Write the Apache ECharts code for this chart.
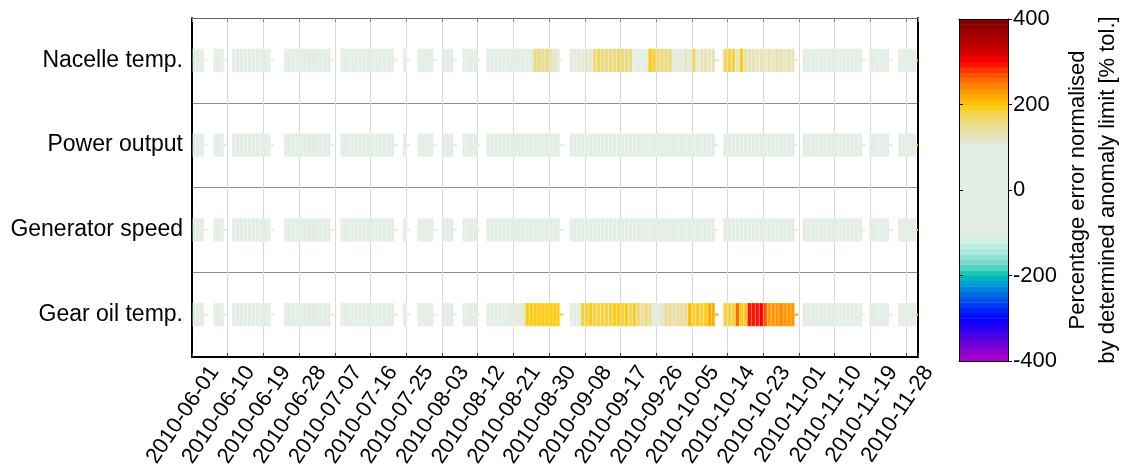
<!DOCTYPE html>
<html><head><meta charset="utf-8">
<script src="https://cdn.jsdelivr.net/npm/echarts@6/dist/echarts.min.js"></script>
<style>html,body{margin:0;padding:0;background:#fff}#c{width:1126px;height:472px}</style>
</head><body><div id="c"></div>
<script>
// ---------- DATA ----------
const rowNames = ['Nacelle temp.', 'Power output', 'Generator speed', 'Gear oil temp.'];
const tickLabels = ['2010-06-01','2010-06-10','2010-06-19','2010-06-28','2010-07-07','2010-07-16','2010-07-25',
  '2010-08-03','2010-08-12','2010-08-21','2010-08-30','2010-09-08','2010-09-17','2010-09-26','2010-10-05',
  '2010-10-14','2010-10-23','2010-11-01','2010-11-10','2010-11-19','2010-11-28'];
const tickStepDays = 9;          // days between date ticks
const axisEndDay = 183;          // x range end, days after 2010-06-01
// periods with data, [start, end] in days after 2010-06-01
const segments = [[0.2,3.0],[5.4,8.0],[10.1,19.8],[23.2,34.9],[37.4,50.9],[53.2,54.1],[56.8,60.8],
  [63.2,65.9],[68.2,71.9],[74.2,92.7],[95.2,131.8],[133.8,151.9],[153.9,168.9],[170.7,175.7],[178.0,182.5]];
// daily values (% tol.), day 0 = 2010-06-01
const nacelleTemp = [
  12,8,15,null,null,10,18,6,null,null,
  14,9,20,11,7,16,22,13,8,10,
  null,null,null,12,18,9,21,14,7,11,
  19,16,10,13,8,null,null,17,9,14,
  20,11,8,15,18,13,10,16,12,9,
  14,null,null,11,13,null,15,9,12,18,
  10,null,null,14,11,16,null,null,12,19,
  10,15,null,null,20,25,18,30,22,28,
  35,26,31,40,45,55,150,150,148,152,
  135,115,112,null,null,110,108,112,110,115,
  110,160,165,158,162,160,155,163,160,158,
  162,50,40,45,60,195,185,155,150,158,
  152,110,112,108,115,110,170,105,125,128,
  122,125,null,175,170,178,175,120,195,130,
  125,128,122,126,124,127,123,125,128,122,
  126,124,null,20,15,22,18,12,25,16,
  10,19,14,21,8,17,13,11,15,null,
  12,18,9,16,14,10,null,null,13,17,
  11,15,19];
const powerOutput = [
  -5,3,-8,null,null,2,-4,6,null,null,
  1,-3,5,-7,4,-2,8,-6,3,-1,
  null,null,null,4,-5,7,-3,2,-8,5,
  -2,6,-4,3,-7,null,null,5,-1,4,
  -6,2,7,-3,1,-5,6,-2,4,-8,
  3,null,null,-4,5,null,2,-6,7,-1,
  4,null,null,-3,6,-5,null,null,2,-7,
  5,-2,null,null,3,-4,8,-6,1,-3,
  5,-7,4,-2,6,-5,3,-1,7,-4,
  2,-6,5,null,null,-3,4,-8,6,-2,
  3,-5,7,-1,4,-6,2,-3,5,-7,
  1,6,-4,3,-2,8,-5,2,-6,4,
  -1,5,-3,7,-4,2,-8,6,-2,3,
  -5,4,null,1,-6,7,-3,5,-2,4,
  -7,3,-1,6,-4,2,-5,8,-3,1,
  -6,4,null,5,-2,7,-4,3,-8,2,
  -1,6,-5,4,-3,2,-7,5,-2,null,
  3,-6,4,-1,7,-4,null,null,2,-5,
  6,-3,4];
const generatorSpeed = [
  7,-2,4,null,null,-6,3,-1,null,null,
  -4,8,-3,2,-7,5,-2,6,-5,1,
  null,null,null,-3,7,-6,2,-4,5,-1,
  6,-8,3,-2,4,null,null,-5,7,-3,
  1,-4,6,-7,2,5,-1,3,-6,8,
  -2,null,null,4,-3,null,-5,6,-1,3,
  -4,null,null,7,-2,5,null,null,-6,1,
  -3,4,null,null,-5,8,-2,3,-7,6,
  -1,4,-5,2,-3,7,-6,1,-4,5,
  -2,6,-8,null,null,3,-1,5,-4,7,
  -3,2,-6,4,-1,8,-5,3,-2,6,
  -7,1,4,-3,5,-2,6,-4,2,-8,
  3,-1,7,-5,4,-2,6,-3,1,-6,
  5,-4,null,2,-7,3,-1,6,-5,4,
  -2,8,-3,1,-6,5,-4,2,-1,7,
  -5,3,null,-2,6,-4,1,-7,4,-3,
  5,-1,2,-6,8,-3,4,-2,6,null,
  -4,1,-5,7,-3,2,null,null,-6,4,
  -1,5,-2];
const gearOilTemp = [
  15,22,10,null,null,18,12,25,null,null,
  20,14,28,16,11,24,19,13,27,17,
  null,null,null,21,15,26,12,23,18,29,
  14,20,25,11,22,null,null,16,28,13,
  24,19,15,27,12,21,26,17,23,14,
  20,null,null,18,25,null,13,22,16,27,
  19,null,null,24,15,21,null,null,18,26,
  12,23,null,null,30,35,28,40,45,50,
  105,110,108,112,190,192,188,195,190,193,
  189,191,190,null,null,60,55,85,185,182,
  188,184,186,183,187,185,198,190,185,192,
  170,188,150,140,155,148,112,108,115,140,
  145,130,142,138,140,210,185,195,182,188,
  215,218,null,182,178,185,180,262,190,188,
  290,288,292,312,268,232,235,230,238,233,
  236,231,null,20,28,15,24,19,30,13,
  22,17,26,11,25,18,21,14,27,null,
  16,23,12,20,28,15,null,null,19,24,
  13,21,17];
const endMarkValues = [190, 190, 190, 190];
// colour scale
const cmapStops  = [-400,-375,-350,-325,-300,-275,-250,-225,-212.5,-200,-187.5,-175,-150,-125,-100,
  100,112.5,125,137.5,150,162.5,175,187.5,200,212.5,225,237.5,250,262.5,275,287.5,300,312.5,325,350,375,400];
const cmapColors = ['#b400c8','#8a00d2','#5a00e0','#2c00f0','#0000ff','#0030f6','#0060e8','#0090d8','#00aacc','#00c0b0','#30ccbc','#6cd8cc','#9fe4da','#caeee6','#e2ede4',
  '#e2ede4','#e4e8d0','#e6e4bc','#e8e0a8','#eadc90','#ecd878','#f2d458','#f8d030','#ffc800','#ffb400','#ffa000','#ff9000','#ff7800','#ff6000','#ff4800','#ff2000','#ff0000','#e80000','#d00000','#b00000','#980000','#7d0000'];
const cmapMin = -400, cmapMax = 400, cmapLevels = 64;

// ---------- helpers ----------
function hex(c){return [parseInt(c.slice(1,3),16),parseInt(c.slice(3,5),16),parseInt(c.slice(5,7),16)];}
function interpColor(v){
  if (v <= cmapStops[0]) return cmapColors[0];
  for (let i = 1; i < cmapStops.length; i++) {
    if (v <= cmapStops[i]) {
      const t = (v - cmapStops[i-1]) / (cmapStops[i] - cmapStops[i-1]);
      const a = hex(cmapColors[i-1]), b = hex(cmapColors[i]);
      return 'rgb(' + a.map((x, k) => Math.round(x + (b[k]-x)*t)).join(',') + ')';
    }
  }
  return cmapColors[cmapColors.length-1];
}
const step = (cmapMax - cmapMin) / cmapLevels;
function levelColor(v){
  let l = Math.floor((v - cmapMin) / step);
  l = Math.max(0, Math.min(cmapLevels-1, l));
  return interpColor(cmapMin + step*(l+0.5));
}

const rowValues = [nacelleTemp, powerOutput, generatorSpeed, gearOilTemp];
const dashDays = 0.9;
const cells = [];
rowValues.forEach((vals, r) => {
  segments.forEach((seg, si) => {
    const s = seg[0], e = seg[1];
    let last = null;
    for (let d = Math.floor(s); d < e; d++) {
      const v = vals[d];
      if (v == null) continue;
      cells.push([Math.max(d, s), Math.min(d+1, e), r, v, 0]);
      last = v;
    }
    const dv = si === segments.length-1 ? endMarkValues[r] : last;
    cells.push([e, Math.min(e + dashDays, axisEndDay), r, dv, 1]);
  });
});
const barLevels = [];
for (let i = 0; i < cmapLevels; i++) barLevels.push([0, cmapMin + step*i, cmapMin + step*(i+1)]);
// one category per day for the date axis
const dayCats = [];
for (let d = 0; d <= axisEndDay; d++) dayCats.push(String(d));
const dayLabel = (val, idx) => (idx % tickStepDays === 0 ? (tickLabels[idx / tickStepDays] || '') : '');

const FONT = "'Liberation Sans', Arial, sans-serif";
const chart = echarts.init(document.getElementById('c'), null, {renderer: 'canvas'});
chart.setOption({
  animation: false,
  backgroundColor: '#fff',
  textStyle: {fontFamily: FONT, color: '#000'},
  grid: [
    {left: 192, right: 208, top: 18, bottom: 115, show: false, outerBoundsMode: 'none'},
    {left: 959, width: 49, top: 19, height: 342, show: false, outerBoundsMode: 'none'}
  ],
  xAxis: [
    // bottom date axis (one category per day)
    {gridIndex: 0, type: 'category', data: dayCats, boundaryGap: false, position: 'bottom',
      axisLine: {show: true, onZero: false, lineStyle: {color: '#000', width: 2}},
      axisTick: {show: true, inside: true, length: 4, interval: tickStepDays - 1, lineStyle: {color: '#444'}},
      axisLabel: {show: true, interval: 0, rotate: 56, fontSize: 22, color: '#000', fontFamily: FONT,
        verticalAlign: 'top', lineHeight: 54, margin: -4, formatter: dayLabel},
      splitLine: {show: true, interval: tickStepDays - 1, lineStyle: {color: '#d9d9d9', width: 1}}},
    // top value axis in days, used to place the cells
    {gridIndex: 0, type: 'value', min: 0, max: axisEndDay, interval: tickStepDays, position: 'top',
      axisLine: {show: true, onZero: false, lineStyle: {color: '#666', width: 1}},
      axisTick: {show: true, inside: true, length: 4, lineStyle: {color: '#888'}},
      axisLabel: {show: false}, splitLine: {show: false}},
    {gridIndex: 1, type: 'value', min: 0, max: 1, position: 'bottom', z: 10,
      axisLine: {show: true, onZero: false, lineStyle: {color: '#000', width: 1}}, axisTick: {show: false}, axisLabel: {show: false}, splitLine: {show: false}},
    {gridIndex: 1, type: 'value', min: 0, max: 1, position: 'top', z: 10,
      axisLine: {show: true, onZero: false, lineStyle: {color: '#000', width: 1}}, axisTick: {show: false}, axisLabel: {show: false}, splitLine: {show: false}}
  ],
  yAxis: [
    {gridIndex: 0, type: 'category', data: rowNames, inverse: true, position: 'left',
      axisLine: {show: true, onZero: false, lineStyle: {color: '#000', width: 2}},
      axisTick: {show: true, inside: true, alignWithLabel: true, length: 4, lineStyle: {color: '#444'}},
      axisLabel: {fontSize: 23, color: '#000', margin: 9, fontFamily: FONT},
      splitLine: {show: true, lineStyle: {color: '#8c8c8c', width: 1}}},
    {gridIndex: 0, type: 'category', data: rowNames, inverse: true, position: 'right',
      axisLine: {show: true, onZero: false, lineStyle: {color: '#000', width: 2}},
      axisTick: {show: true, inside: true, alignWithLabel: true, length: 4, lineStyle: {color: '#444'}},
      axisLabel: {show: false}, splitLine: {show: false}},
    {gridIndex: 1, type: 'value', min: cmapMin, max: cmapMax, interval: 200, position: 'right', z: 10,
      axisLine: {show: true, onZero: false, lineStyle: {color: '#000', width: 1}},
      axisTick: {show: true, inside: false, length: 4, lineStyle: {color: '#000'}},
      axisLabel: {fontSize: 22, color: '#000', margin: 5, fontFamily: FONT},
      splitLine: {show: false},
      name: 'Percentage error normalised\nby determined anomaly limit [% tol.]',
      nameLocation: 'middle', nameRotate: 90, nameGap: 55,
      nameTextStyle: {fontSize: 22, color: '#000', lineHeight: 30, fontFamily: FONT}},
    {gridIndex: 1, type: 'value', min: cmapMin, max: cmapMax, interval: 200, position: 'left', z: 10,
      axisLine: {show: true, onZero: false, lineStyle: {color: '#000', width: 1}},
      axisTick: {show: true, inside: true, length: 4, lineStyle: {color: '#000'}},
      axisLabel: {show: false}, splitLine: {show: false}}
  ],
  series: [
    {type: 'custom', xAxisIndex: 1, yAxisIndex: 0, clip: true, data: cells,
      encode: {x: [0, 1], y: 2},
      renderItem: (params, api) => {
        const p0 = api.coord([api.value(0), api.value(2)]);
        const p1 = api.coord([api.value(1), api.value(2)]);
        const band = api.size([0, 1])[1];
        const dash = api.value(4) === 1;
        const h = dash ? 2 : band * 0.275;
        return {type: 'rect', shape: {x: p0[0], y: p0[1] - h/2, width: p1[0] - p0[0], height: h},
          style: {fill: levelColor(api.value(3)), stroke: dash ? null : 'rgba(255,255,255,0.45)', lineWidth: 0.5}};
      }},
    {type: 'custom', xAxisIndex: 2, yAxisIndex: 2, data: barLevels,
      encode: {x: 0, y: [1, 2]},
      renderItem: (params, api) => {
        const a = api.coord([0, api.value(2)]);
        const b = api.coord([1, api.value(1)]);
        return {type: 'rect', shape: {x: a[0], y: a[1], width: b[0] - a[0], height: b[1] - a[1] + 0.5},
          style: {fill: levelColor((api.value(1) + api.value(2)) / 2)}};
      }}
  ]
});
</script></body></html>
